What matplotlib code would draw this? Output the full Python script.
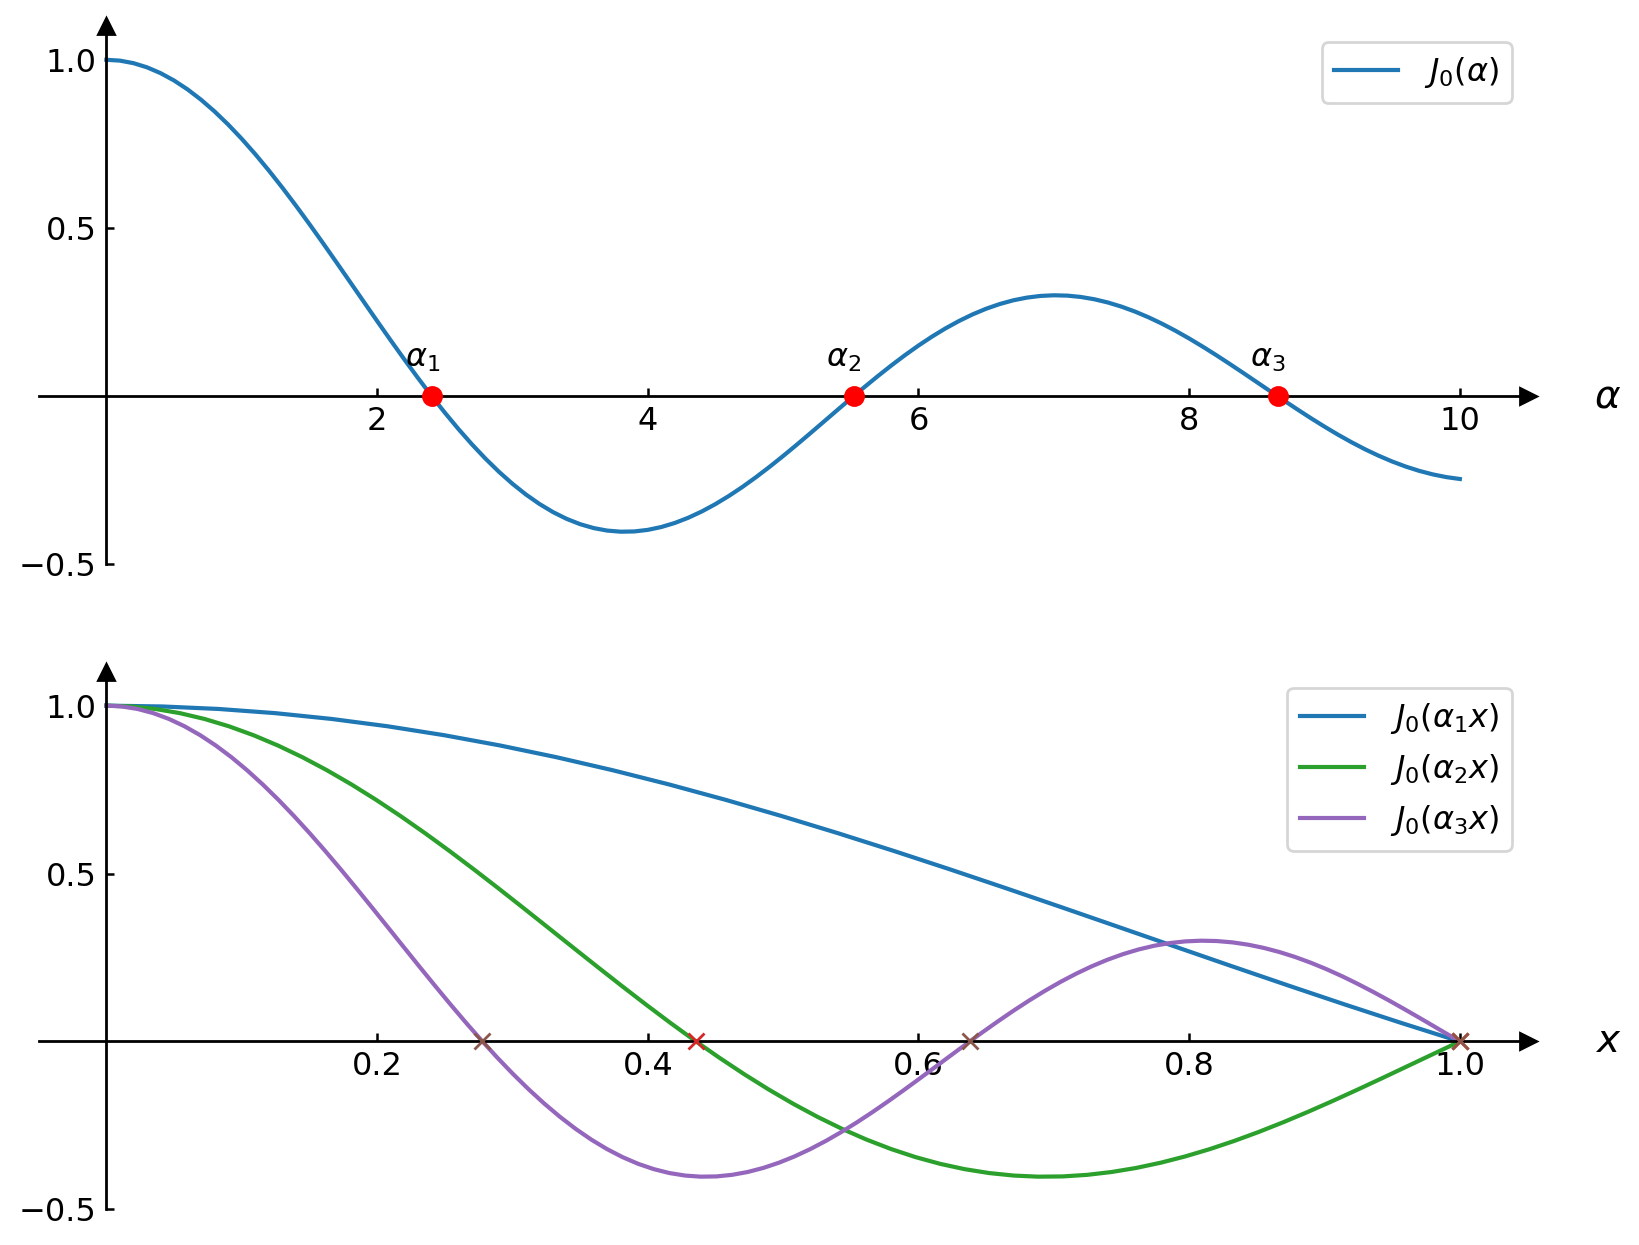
import matplotlib
matplotlib.use("Agg")
import matplotlib.pyplot as plt
import numpy as np

# J0, every 0.1 on the alpha axis (0 .. 10)
alpha_grid = [i / 10 for i in range(101)]
j0_vals = [1.0, 0.99750, 0.99003, 0.97763, 0.96040, 0.93847, 0.91200, 0.88120, 0.84629, 0.80752,
           0.76520, 0.71962, 0.67113, 0.62009, 0.56686, 0.51183, 0.45540, 0.39798, 0.33999, 0.28182,
           0.22389, 0.16661, 0.11036, 0.05554, 0.00251, -0.04838, -0.09681, -0.14245, -0.18504, -0.22431,
           -0.26005, -0.29209, -0.32019, -0.34430, -0.36430, -0.38013, -0.39177, -0.39923, -0.40256, -0.40183,
           -0.39715, -0.38866, -0.37657, -0.36101, -0.34226, -0.32054, -0.29614, -0.26935, -0.24043, -0.20974,
           -0.17760, -0.14434, -0.11029, -0.07580, -0.04121, -0.00684, 0.02697, 0.05992, 0.09170, 0.12203,
           0.15065, 0.17729, 0.20175, 0.22381, 0.24331, 0.26009, 0.27404, 0.28509, 0.29310, 0.29812,
           0.30008, 0.29906, 0.29507, 0.28822, 0.27860, 0.26634, 0.25163, 0.23461, 0.21549, 0.19443,
           0.17165, 0.14751, 0.12220, 0.09598, 0.06916, 0.04191, 0.01462, -0.01256, -0.03923, -0.06529,
           -0.09033, -0.11429, -0.13675, -0.15771, -0.17677, -0.19393, -0.20898, -0.22178, -0.23227, -0.24033,
           -0.24594]

zeros = [2.4048, 5.5201, 8.6537]
zero_labels = [r'$\alpha_1$', r'$\alpha_2$', r'$\alpha_3$']
line_colors = ['C0', 'C2', 'C4']
mark_colors = ['C1', 'C3', 'C5']

plt.rcParams['font.size'] = 11.5


def setup_axes(ax, xlim, xticks, xlabel):
    ax.set_xlim(*xlim)
    ax.set_ylim(-0.5, 1.1)
    ax.spines['left'].set_position(('data', 0))
    ax.spines['bottom'].set_position(('data', 0))
    ax.spines['left'].set_linewidth(1.0)
    ax.spines['bottom'].set_linewidth(1.0)
    ax.spines['right'].set_visible(False)
    ax.spines['top'].set_visible(False)
    ax.set_xticks(xticks)
    ax.set_yticks([-0.5, 0.5, 1.0])
    ax.tick_params(direction='in', length=3, width=0.9)
    ax.plot(1, 0, '>k', ms=5.6, transform=ax.get_yaxis_transform(), clip_on=False)
    ax.plot(0, 1, '^k', ms=5.6, transform=ax.get_xaxis_transform(), clip_on=False)
    ax.text(1.054, 0, xlabel, transform=ax.get_yaxis_transform(),
            ha='center', va='center', fontsize=14)


fig = plt.figure(figsize=(8.195, 6.225), dpi=200)
ax1 = fig.add_axes([0.0236, 0.5466, 0.9084, 0.4324])
ax2 = fig.add_axes([0.0236, 0.0286, 0.9084, 0.4316])

# top: J0(alpha) and its first zeros
setup_axes(ax1, (-0.5, 10.5), [2, 4, 6, 8, 10], r'$\alpha$')
ax1.plot(alpha_grid, j0_vals, color='C0', lw=1.5, label=r'$J_0(\alpha)$')
ax1.plot(zeros, [0, 0, 0], 'o', color='red', ms=6.5, zorder=5, clip_on=False)
for a, lab in zip(zeros, zero_labels):
    ax1.text(a - 0.07, 0.065, lab, ha='center', va='bottom')
ax1.legend(loc='upper right')

# bottom: J0(alpha_k x) on [0, 1]
setup_axes(ax2, (-0.05, 1.05), [0.2, 0.4, 0.6, 0.8, 1.0], r'$x$')
for k, ak in enumerate(zeros):
    t = [v for v in alpha_grid if v < ak] + [ak]
    y = [j for v, j in zip(alpha_grid, j0_vals) if v < ak] + [0.0]
    ax2.plot(np.array(t) / ak, y, color=line_colors[k], lw=1.5,
             label=r'$J_0(\alpha_%d x)$' % (k + 1))
for k, ak in enumerate(zeros):
    xs = [zeros[j] / ak for j in range(k + 1)]
    ax2.plot(xs, [0] * len(xs), 'x', color=mark_colors[k], zorder=5, clip_on=False)
ax2.legend(loc='upper right')

fig.savefig('out.png', dpi=200)
